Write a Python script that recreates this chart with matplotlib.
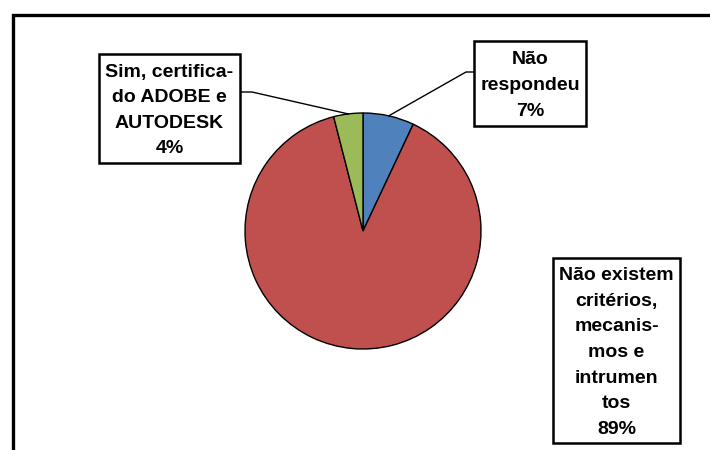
import numpy as np
import matplotlib.pyplot as plt
from matplotlib.patches import Rectangle

# Respostas (%)
labels = ["Não respondeu", "Não existem critérios, mecanismos e intrumentos",
          "Sim, certificado ADOBE e AUTODESK"]
box_text = ["Não\nrespondeu", "Não existem\ncritérios,\nmecanis-\nmos e\nintrumen\ntos",
            "Sim, certifica-\ndo ADOBE e\nAUTODESK"]
values = [7, 89, 4]
colors = ["#4F81BD", "#C0504D", "#9BBB59"]

W, H = 710, 450
fig = plt.figure(figsize=(W / 100, H / 100), dpi=100)
ax = fig.add_axes([0, 0, 1, 1])

def Y(y):
    # pixel rows counted from the top
    return H - y

cx, cy, r = 363, Y(231), 118
wedges, _ = ax.pie(values, colors=colors, startangle=90, counterclock=False,
                   center=(cx, cy), radius=r, frame=True,
                   wedgeprops=dict(edgecolor="black", linewidth=1.0))
ax.set_xlim(0, W)
ax.set_ylim(0, H)
ax.axis("off")

font = dict(family=["Liberation Sans", "DejaVu Sans"],
            fontweight="bold", fontsize=14)

# outer chart border (runs off the right and bottom)
ax.add_patch(Rectangle((13, Y(480)), 720, 465, fill=False, ec="black", lw=2.4,
                       clip_on=False))

# label boxes: (x0, y0, x1, y1) in pixels, elbow point of the leader line
boxes = {
    0: ((474, 41, 586, 126), 466, 72),
    1: ((553, 258, 680, 443), None, None),
    2: ((99, 54, 240, 163), 252, 92),
}

for i, ((x0, y0, x1, y1), ex, ey) in boxes.items():
    ax.add_patch(Rectangle((x0, Y(y1)), x1 - x0, y1 - y0, fc="white", ec="black",
                           lw=1.8, zorder=3))
    txt = f"{box_text[i]}\n{values[i]}%"
    ax.text((x0 + x1) / 2, Y((y0 + y1) / 2 + 2), txt, ha="center", va="center",
            multialignment="center", linespacing=1.66, zorder=4, **font)
    if ex is not None:
        w = wedges[i]
        mid = np.deg2rad((w.theta1 + w.theta2) / 2)
        px, py = cx + r * np.cos(mid), cy + r * np.sin(mid)
        bx = x1 if ex > x1 else x0
        ax.plot([bx, ex, px], [Y(ey), Y(ey), py], color="black", lw=1.0, zorder=2)

fig.savefig("out.png", dpi=100)
